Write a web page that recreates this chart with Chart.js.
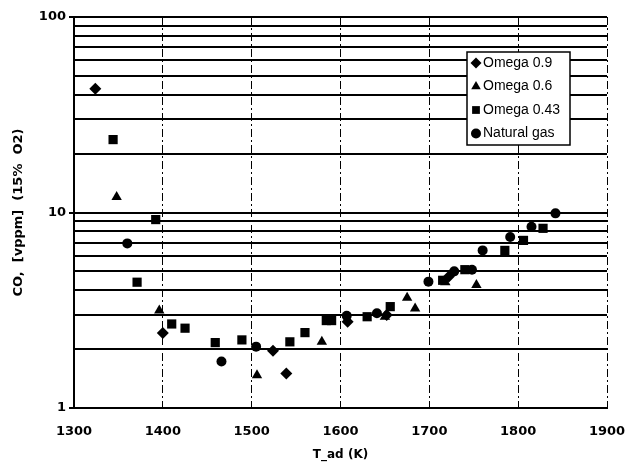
<!DOCTYPE html>
<html>
<head>
<meta charset="utf-8">
<script src="https://cdn.jsdelivr.net/npm/chart.js@4/dist/chart.umd.min.js"></script>
<style>
  html, body { margin: 0; padding: 0; background: #fff; }
  #box { width: 629px; height: 466px; position: relative; }
</style>
</head>
<body>
<div id="box"><canvas id="coChart"></canvas></div>
<script>
// valores (T_ad em K, CO em vppm)
const tempOmega09 = [1324, 1400, 1524, 1539, 1608, 1652, 1722];
const coOmega09 = [43, 2.42, 1.96, 1.50, 2.76, 2.99, 4.7];

const tempOmega06 = [1348, 1396, 1506, 1579, 1650, 1675, 1684, 1718, 1753];
const coOmega06 = [12.0, 3.15, 1.47, 2.18, 2.93, 3.66, 3.23, 4.4, 4.26];

const tempOmega043 = [1344, 1371, 1392, 1410, 1425, 1459, 1489, 1543, 1560, 1584, 1590, 1630, 1656, 1715, 1740, 1785, 1806, 1828];
const coOmega043 = [23.6, 4.4, 9.2, 2.69, 2.56, 2.16, 2.23, 2.18, 2.43, 2.80, 2.80, 2.93, 3.30, 4.5, 5.1, 6.4, 7.2, 8.3];

const tempNatGas = [1360, 1466, 1505, 1607, 1641, 1699, 1728, 1748, 1760, 1791, 1815, 1842];
const coNatGas = [6.95, 1.73, 2.06, 2.96, 3.05, 4.43, 5.0, 5.1, 6.4, 7.5, 8.45, 9.9];

const seriesNames = ['Omega 0.9', 'Omega 0.6', 'Omega 0.43', 'Natural gas'];
const xTicks = [1300, 1400, 1500, 1600, 1700, 1800, 1900];
const yGrid = [1, 2, 3, 4, 5, 6, 7, 8, 9, 10, 20, 30, 40, 50, 60, 70, 80, 90, 100];
const yTickLabels = ['1', '10', '100'];

function pontos(xs, ys) {
    return xs.map((x, i) => ({ x: x, y: ys[i] }));
}

function marcador(ctx, estilo, r, x, y) {
    ctx.beginPath();
    if (estilo === 'circle') {
        ctx.arc(x, y, r, 0, Math.PI * 2);
    } else if (estilo === 'rect') {
        const s = r * Math.SQRT1_2;
        ctx.rect(x - s, y - s, 2 * s, 2 * s);
    } else if (estilo === 'rectRot') {
        ctx.moveTo(x, y - r); ctx.lineTo(x + r, y); ctx.lineTo(x, y + r); ctx.lineTo(x - r, y);
        ctx.closePath();
    } else if (estilo === 'triangle') {
        ctx.moveTo(x, y - r); ctx.lineTo(x + r * 0.87, y + r * 0.5); ctx.lineTo(x - r * 0.87, y + r * 0.5);
        ctx.closePath();
    }
    ctx.fill();
}

// legenda dentro da area do grafico, com caixa
const legendaCaixa = {
    id: 'legendaCaixa',
    afterDraw(chart) {
        const ctx = chart.ctx;
        const x = 467, y = 52, w = 103, h = 93;
        ctx.save();
        ctx.fillStyle = '#fff';
        ctx.fillRect(x, y, w, h);
        ctx.strokeStyle = '#000';
        ctx.lineWidth = 1.5;
        ctx.strokeRect(x, y, w, h);
        ctx.fillStyle = '#000';
        ctx.font = '14px "Liberation Sans", Arial, sans-serif';
        ctx.textBaseline = 'middle';
        chart.data.datasets.forEach((ds, i) => {
            const cy = y + 11 + i * 23.5;
            marcador(ctx, ds.pointStyle, Math.min(ds.pointRadius, 5.5), x + 9, cy);
            ctx.fillText(ds.label, x + 16, cy);
        });
        ctx.restore();
    }
};

const estilos = ['rectRot', 'triangle', 'rect', 'circle'];
const raios = [6, 6, 6.5, 5];
const dados = [
    pontos(tempOmega09, coOmega09),
    pontos(tempOmega06, coOmega06),
    pontos(tempOmega043, coOmega043),
    pontos(tempNatGas, coNatGas)
];

const fonteEixo = { family: '"DejaVu Sans", sans-serif', size: 13, weight: 'bold' };

new Chart(document.getElementById('coChart'), {
    type: 'scatter',
    data: {
        datasets: seriesNames.map((nome, i) => ({
            label: nome,
            data: dados[i],
            pointStyle: estilos[i],
            pointRadius: raios[i],
            pointBackgroundColor: '#000',
            pointBorderColor: '#000',
            pointBorderWidth: 0
        }))
    },
    options: {
        responsive: true,
        maintainAspectRatio: false,
        animation: false,
        layout: { padding: { left: 7, top: 17, right: 22, bottom: 0 } },
        plugins: {
            legend: { display: false },
            tooltip: { enabled: false }
        },
        scales: {
            x: {
                type: 'linear',
                min: 1300,
                max: 1900,
                afterBuildTicks: (axis) => { axis.ticks = xTicks.map(v => ({ value: v })); },
                afterFit: (axis) => { axis.height = 58; },
                ticks: {
                    color: '#000',
                    font: fonteEixo,
                    padding: 0,
                    maxRotation: 0,
                    autoSkip: false,
                    callback: (v) => String(v)
                },
                grid: { color: '#000', lineWidth: 1, drawTicks: true, tickLength: 16, tickColor: 'rgba(0,0,0,0)' },
                border: { color: '#000', width: 2, dash: [8, 3, 2, 3] },
                title: {
                    display: true,
                    text: 'T_ad (K)',
                    color: '#000',
                    font: { family: '"DejaVu Sans", sans-serif', size: 12, weight: 'bold' },
                    padding: { top: 2, bottom: 4 }
                }
            },
            y: {
                type: 'logarithmic',
                min: 1,
                max: 100,
                afterBuildTicks: (axis) => { axis.ticks = yGrid.map(v => ({ value: v })); },
                afterFit: (axis) => { axis.width = 67; },
                ticks: {
                    color: '#000',
                    font: fonteEixo,
                    padding: 3,
                    autoSkip: false,
                    callback: (v) => yTickLabels.includes(String(v)) ? String(v) : ''
                },
                grid: {
                    color: '#000',
                    lineWidth: 2,
                    tickLength: 5,
                    tickColor: (c) => (c.tick && yTickLabels.includes(String(c.tick.value))) ? '#000' : 'rgba(0,0,0,0)'
                },
                border: { color: '#000', width: 2 },
                title: {
                    display: true,
                    text: 'CO,  [vppm]  (15%  O2)',
                    color: '#000',
                    font: { family: '"DejaVu Sans", sans-serif', size: 13, weight: 'bold' },
                    padding: { top: 4, bottom: 12 }
                }
            }
        }
    },
    plugins: [legendaCaixa]
});
</script>
</body>
</html>
